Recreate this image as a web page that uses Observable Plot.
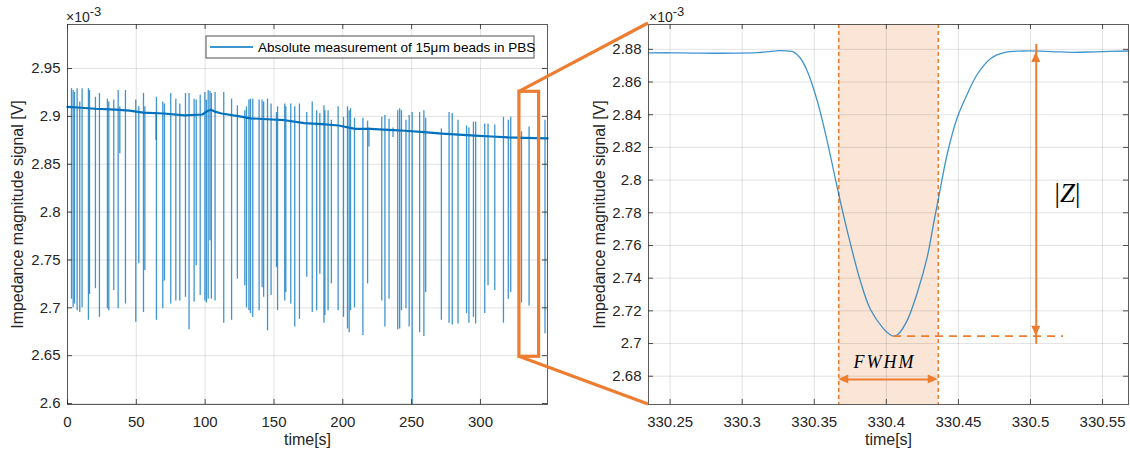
<!DOCTYPE html>
<html><head><meta charset="utf-8">
<script src="https://cdn.jsdelivr.net/npm/d3@7"></script>
<script src="https://cdn.jsdelivr.net/npm/@observablehq/plot@0.6"></script>
<style>
body{margin:0;background:#fff;}
#wrap{position:relative;width:1130px;height:454px;font-family:"Liberation Sans",Arial,sans-serif;}
#wrap svg{position:absolute;top:0;}
</style></head>
<body><div id="wrap"></div>
<script>
// ---------- data (values in units of 1e-3 V) ----------
const legendText = "Absolute measurement of 15μm beads in PBS";
const xLabel = "time[s]";
const yLabel = "Impedance magnitude signal [V]";

const leftXDomain = [0, 348.7];
const leftYDomain = [2.599, 2.996];
const leftXTicks = [0, 50, 100, 150, 200, 250, 300];
const leftYTicks = [2.6, 2.65, 2.7, 2.75, 2.8, 2.85, 2.9, 2.95];

// baseline of the full recording
const baseT = [0, 10, 20, 35, 45, 55, 70, 85, 98, 101, 104, 107, 112, 125, 133, 145, 158, 172, 185, 197, 209, 220, 233, 245, 259, 272, 284, 296, 308, 320, 332, 348.7];
const baseV = [2.910, 2.909, 2.908, 2.907, 2.906, 2.904, 2.903, 2.901, 2.902, 2.905, 2.907, 2.905, 2.903, 2.900, 2.898, 2.897, 2.896, 2.893, 2.892, 2.8905, 2.887, 2.887, 2.886, 2.885, 2.8835, 2.882, 2.881, 2.880, 2.879, 2.878, 2.8775, 2.877];

// bead events (spikes): time, upper excursion, lower excursion
const spikeT = [2.9, 4.1, 5.1, 7.0, 8.9, 10.6, 15.2, 16.0, 20.3, 23.2, 29.0, 30.0, 33.6, 36.8, 38.0, 42.1, 49.6, 51.8, 55.2, 56.2, 64.3, 64.6, 69.2, 70.4, 75.0, 78.7, 81.6, 85.7, 88.3, 92.0, 93.5, 96.4, 99.8, 100.9, 102.2, 103.5, 104.5, 107.2, 113.5, 119.2, 123.4, 128.8, 130.0, 131.8, 132.9, 134.6, 139.2, 141.4, 142.5, 145.3, 147.9, 151.8, 152.6, 157.8, 158.6, 162.2, 165.1, 168.5, 173.8, 177.8, 181.0, 183.3, 186.3, 187.0, 189.3, 191.7, 196.6, 200.5, 203.4, 204.6, 205.6, 208.5, 214.6, 218.0, 219.0, 228.3, 230.6, 233.6, 236.5, 239.9, 241.3, 242.6, 245.9, 248.2, 250.4, 255.8, 258.9, 260.2, 271.6, 277.2, 279.5, 283.7, 289.9, 291.6, 294.9, 296.5, 303.1, 305.5, 310.4, 316.7, 320.2, 322.0, 329.8, 335.3, 346.9];
const spikeHi = [2.929, 2.927, 2.925, 2.929, 2.915, 2.929, 2.929, 2.927, 2.920, 2.924, 2.918, 2.915, 2.917, 2.927, 2.910, 2.927, 2.917, 2.910, 2.924, 2.910, 2.904, 2.920, 2.915, 2.913, 2.924, 2.918, 2.913, 2.924, 2.924, 2.918, 2.917, 2.922, 2.925, 2.917, 2.927, 2.926, 2.924, 2.925, 2.925, 2.918, 2.911, 2.906, 2.910, 2.917, 2.918, 2.918, 2.917, 2.917, 2.915, 2.918, 2.913, 2.904, 2.910, 2.913, 2.910, 2.913, 2.910, 2.913, 2.904, 2.915, 2.906, 2.903, 2.911, 2.906, 2.906, 2.896, 2.910, 2.899, 2.910, 2.906, 2.908, 2.898, 2.898, 2.895, 2.888, 2.899, 2.901, 2.897, 2.888, 2.906, 2.908, 2.906, 2.896, 2.901, 2.904, 2.904, 2.906, 2.898, 2.887, 2.904, 2.903, 2.896, 2.890, 2.888, 2.894, 2.894, 2.892, 2.892, 2.891, 2.899, 2.896, 2.899, 2.884, 2.889, 2.896];
const spikeLo = [2.709, 2.700, 2.704, 2.697, 2.695, 2.700, 2.687, 2.714, 2.720, 2.690, 2.699, 2.697, 2.718, 2.699, 2.861, 2.704, 2.685, 2.746, 2.695, 2.739, 2.875, 2.687, 2.699, 2.728, 2.704, 2.707, 2.707, 2.711, 2.677, 2.706, 2.744, 2.713, 2.707, 2.705, 2.709, 2.770, 2.709, 2.707, 2.684, 2.687, 2.730, 2.723, 2.700, 2.697, 2.694, 2.690, 2.697, 2.721, 2.711, 2.676, 2.713, 2.742, 2.697, 2.707, 2.716, 2.704, 2.680, 2.688, 2.732, 2.695, 2.697, 2.735, 2.684, 2.692, 2.697, 2.725, 2.697, 2.690, 2.678, 2.674, 2.697, 2.700, 2.671, 2.725, 2.868, 2.707, 2.680, 2.709, 2.878, 2.677, 2.678, 2.697, 2.699, 2.680, 2.590, 2.674, 2.670, 2.716, 2.687, 2.684, 2.682, 2.683, 2.694, 2.684, 2.690, 2.683, 2.694, 2.723, 2.718, 2.684, 2.709, 2.716, 2.705, 2.702, 2.673];

// highlighted region on the overview
const zoomBox = {x1: 328.3, x2: 342.6, y1: 2.6489, y2: 2.9257};

// zoomed single event
const rightXDomain = [330.235, 330.568];
const rightYDomain = [2.6627, 2.8952];
const rightXTicks = [330.25, 330.3, 330.35, 330.4, 330.45, 330.5, 330.55];
const rightYTicks = [2.68, 2.7, 2.72, 2.74, 2.76, 2.78, 2.8, 2.82, 2.84, 2.86, 2.88];
const eventT = [330.235, 330.25, 330.265, 330.28, 330.295, 330.31, 330.32, 330.326, 330.331, 330.3356, 330.340, 330.3449, 330.3519, 330.3588, 330.3658, 330.3727, 330.3819, 330.3889, 330.3981, 330.402, 330.4051, 330.408, 330.4144, 330.4213, 330.4283, 330.4329, 330.4363, 330.4422, 330.4491, 330.456, 330.463, 330.4722, 330.4815, 330.4953, 330.51, 330.5185, 330.53, 330.545, 330.568];
const eventV = [2.8778, 2.8779, 2.8777, 2.8776, 2.8777, 2.8780, 2.8788, 2.8792, 2.8790, 2.8784, 2.8750, 2.8672, 2.8490, 2.8245, 2.7960, 2.7696, 2.7385, 2.7210, 2.7090, 2.7058, 2.7045, 2.7055, 2.7140, 2.7306, 2.7527, 2.7740, 2.7893, 2.8158, 2.8380, 2.8524, 2.8646, 2.8743, 2.8780, 2.8790, 2.8788, 2.8785, 2.8782, 2.8785, 2.8790];

// annotation values
const fwhm = {x1: 330.367, x2: 330.436, y: 2.678, labelX: 330.399, labelY: 2.6873};
const zMag = {x: 330.504, lo: 2.7045, hi: 2.878, minT: 330.405, dashEnd: 330.523, labelX: 330.526, labelY: 2.7897};

// ---------- styling ----------
const axisColor = "#262626";
const lineBlue = "#0072BD";
const orange = "#ED7D31";
const bandFill = "#FBE5D6";
const font = "Liberation Sans, Arial, sans-serif";
const tickFont = 15, labelFont = 16;
const fmt = d => String(+d.toFixed(2));

const H = 454, MT = 24, MB = 50;
const plotH = H - MT - MB;

const baseline = baseT.map((t, i) => ({t, v: baseV[i]}));
const spikes = spikeT.map((t, i) => ({t, hi: spikeHi[i], lo: spikeLo[i]}));
const eventPts = eventT.map((t, i) => ({t, v: eventV[i]}));

function frameTicks(xTicks, yTicks, plotW) {
  return [
    Plot.ruleX(xTicks, {x: d => d, insetTop: plotH - 5, stroke: axisColor, strokeOpacity: 0.8}),
    Plot.ruleX(xTicks, {x: d => d, insetBottom: plotH - 5, stroke: axisColor, strokeOpacity: 0.8}),
    Plot.ruleY(yTicks, {y: d => d, insetRight: plotW - 5, stroke: axisColor, strokeOpacity: 0.8}),
    Plot.ruleY(yTicks, {y: d => d, insetLeft: plotW - 5, stroke: axisColor, strokeOpacity: 0.8})
  ];
}
function axisLabels(dxY) {
  return [
    Plot.text([xLabel], {frameAnchor: "bottom", dy: 40, fontSize: labelFont, fill: axisColor, textAnchor: "middle"}),
    Plot.text([yLabel], {frameAnchor: "left", dx: dxY, rotate: -90, fontSize: labelFont, fill: axisColor, textAnchor: "middle"})
  ];
}

// ---------- left: overview ----------
const LW = 560, LML = 67, LMR = 13;
const left = Plot.plot({
  width: LW, height: H, marginLeft: LML, marginRight: LMR, marginTop: MT, marginBottom: MB,
  style: {fontFamily: font, fontSize: tickFont + "px", color: axisColor, background: "transparent", overflow: "visible"},
  x: {domain: leftXDomain},
  y: {domain: leftYDomain},
  marks: [
    Plot.gridX(leftXTicks, {stroke: axisColor, strokeOpacity: 0.13}),
    Plot.gridY(leftYTicks, {stroke: axisColor, strokeOpacity: 0.13}),
    Plot.ruleX(spikes, {x: "t", y1: "lo", y2: "hi", stroke: lineBlue, strokeOpacity: 0.75, strokeWidth: 1.3, clip: true}),
    Plot.line(baseline, {x: "t", y: "v", stroke: lineBlue, strokeWidth: 2.2}),
    Plot.rect([zoomBox], {x1: "x1", x2: "x2", y1: "y1", y2: "y2", fill: "none", stroke: orange, strokeWidth: 3.2}),
    Plot.frame({stroke: axisColor, strokeOpacity: 0.75}),
    ...frameTicks(leftXTicks, leftYTicks, LW - LML - LMR),
    Plot.axisX(leftXTicks, {anchor: "bottom", tickSize: 0, tickPadding: 12, tickFormat: fmt, fill: axisColor, fontSize: tickFont}),
    Plot.axisY(leftYTicks, {anchor: "left", tickSize: 0, tickPadding: 7, tickFormat: fmt, fill: axisColor, fontSize: tickFont}),
    ...axisLabels(-50)
  ]
});

// ---------- right: single event ----------
const RW = 570, RML = 88, RMR = 2, RX = 560;
const right = Plot.plot({
  width: RW, height: H, marginLeft: RML, marginRight: RMR, marginTop: MT, marginBottom: MB,
  style: {fontFamily: font, fontSize: tickFont + "px", color: axisColor, background: "transparent", overflow: "visible"},
  x: {domain: rightXDomain},
  y: {domain: rightYDomain},
  marks: [
    Plot.rect([fwhm], {x1: "x1", x2: "x2", y1: () => rightYDomain[0], y2: () => rightYDomain[1], fill: bandFill}),
    Plot.gridX(rightXTicks, {stroke: axisColor, strokeOpacity: 0.13}),
    Plot.gridY(rightYTicks, {stroke: axisColor, strokeOpacity: 0.13}),
    Plot.ruleX([fwhm.x1, fwhm.x2], {x: d => d, stroke: orange, strokeWidth: 1.5, strokeDasharray: "4,3"}),
    Plot.line(eventPts, {x: "t", y: "v", stroke: lineBlue, strokeOpacity: 0.75, strokeWidth: 1.3, curve: "catmull-rom"}),
    Plot.ruleY([zMag], {y: "lo", x1: "minT", x2: "dashEnd", stroke: orange, strokeWidth: 1.8, strokeDasharray: "8,6"}),
    Plot.ruleX([zMag], {x: "x", y1: "lo", y2: "hi", stroke: orange, strokeWidth: 2, insetTop: 8, insetBottom: 8}),
    Plot.ruleY([fwhm], {y: "y", x1: "x1", x2: "x2", stroke: orange, strokeWidth: 2, insetLeft: 8, insetRight: 8}),
    Plot.frame({stroke: axisColor, strokeOpacity: 0.75}),
    ...frameTicks(rightXTicks, rightYTicks, RW - RML - RMR),
    Plot.axisX(rightXTicks, {anchor: "bottom", tickSize: 0, tickPadding: 12, tickFormat: fmt, fill: axisColor, fontSize: tickFont}),
    Plot.axisY(rightYTicks, {anchor: "left", tickSize: 0, tickPadding: 7, tickFormat: fmt, fill: axisColor, fontSize: tickFont}),
    ...axisLabels(-49)
  ]
});

const wrap = document.getElementById("wrap");
left.style.left = "0px";
right.style.left = RX + "px";
wrap.appendChild(left);
wrap.appendChild(right);

// exponent labels
function addExp(svg, x, y) {
  const t = d3.select(svg).append("text").attr("x", x).attr("y", y).attr("text-anchor", "start")
    .attr("fill", axisColor).attr("font-size", 14).attr("font-family", font);
  t.append("tspan").text("×10");
  t.append("tspan").attr("dy", -6).attr("font-size", 13).text("-3");
}
addExp(left, LML - 1, MT - 2);
addExp(right, RML + 1, MT - 2);

// legend (inside left axes, top-right)
{
  const g = d3.select(left).append("g");
  const lx = 206, ly = 36, lw = 328, lh = 22;
  g.append("rect").attr("x", lx).attr("y", ly).attr("width", lw).attr("height", lh)
    .attr("fill", "#fff").attr("stroke", axisColor).attr("stroke-opacity", 0.8).attr("stroke-width", 1);
  g.append("line").attr("x1", lx + 4).attr("x2", lx + 47).attr("y1", ly + 11).attr("y2", ly + 11)
    .attr("stroke", lineBlue).attr("stroke-width", 1.3);
  g.append("text").attr("x", lx + 52).attr("y", ly + 16).attr("text-anchor", "start")
    .attr("font-size", 13.5).attr("font-family", font).attr("fill", "#000").text(legendText);
}

// arrowheads, |Z| and FWHM labels on the right axes
{
  const sx = right.scale("x").apply, sy = right.scale("y").apply;
  const g = d3.select(right).append("g").attr("fill", orange);
  const zx = sx(zMag.x), zt = sy(zMag.hi), zb = sy(zMag.lo);
  g.append("path").attr("d", `M${zx},${zt}L${zx - 4.5},${zt + 10}L${zx + 4.5},${zt + 10}Z`);
  g.append("path").attr("d", `M${zx},${zb}L${zx - 4.5},${zb - 10}L${zx + 4.5},${zb - 10}Z`);
  const fy = sy(fwhm.y), fl = sx(fwhm.x1), fr = sx(fwhm.x2);
  g.append("path").attr("d", `M${fl},${fy}L${fl + 10},${fy - 4.5}L${fl + 10},${fy + 4.5}Z`);
  g.append("path").attr("d", `M${fr},${fy}L${fr - 10},${fy - 4.5}L${fr - 10},${fy + 4.5}Z`);

  const zt2 = d3.select(right).append("text").attr("x", sx(zMag.labelX)).attr("y", sy(zMag.labelY))
    .attr("text-anchor", "middle").attr("dominant-baseline", "middle")
    .attr("font-family", "Liberation Serif, DejaVu Serif, serif").attr("font-size", 27).attr("fill", "#000");
  zt2.append("tspan").text("|");
  zt2.append("tspan").attr("font-style", "italic").text("Z");
  zt2.append("tspan").text("|");

  d3.select(right).append("text").attr("x", sx(fwhm.labelX)).attr("y", sy(fwhm.labelY))
    .attr("text-anchor", "middle").attr("dominant-baseline", "middle")
    .attr("font-family", "Liberation Serif, DejaVu Serif, serif").attr("font-style", "italic")
    .attr("font-size", 18).attr("letter-spacing", 2).attr("fill", "#000").text("FWHM");
}

// connector lines from the highlighted box to the zoomed axes
{
  const lsx = left.scale("x").apply, lsy = left.scale("y").apply;
  const rxr = right.scale("x").range, ryr = right.scale("y").range;
  const bx = lsx(zoomBox.x1), bt = lsy(zoomBox.y2), bb = lsy(zoomBox.y1);
  const cx = RX + Math.min(...rxr), ct = Math.min(...ryr) - 1, cb = Math.max(...ryr);
  const ov = d3.select(wrap).append("svg").attr("width", 1130).attr("height", H)
    .style("left", "0px").style("pointer-events", "none");
  ov.append("line").attr("x1", bx).attr("y1", bt).attr("x2", cx).attr("y2", ct)
    .attr("stroke", orange).attr("stroke-width", 3.2);
  ov.append("line").attr("x1", bx).attr("y1", bb).attr("x2", cx).attr("y2", cb)
    .attr("stroke", orange).attr("stroke-width", 3.2);
}
</script>
</body></html>
